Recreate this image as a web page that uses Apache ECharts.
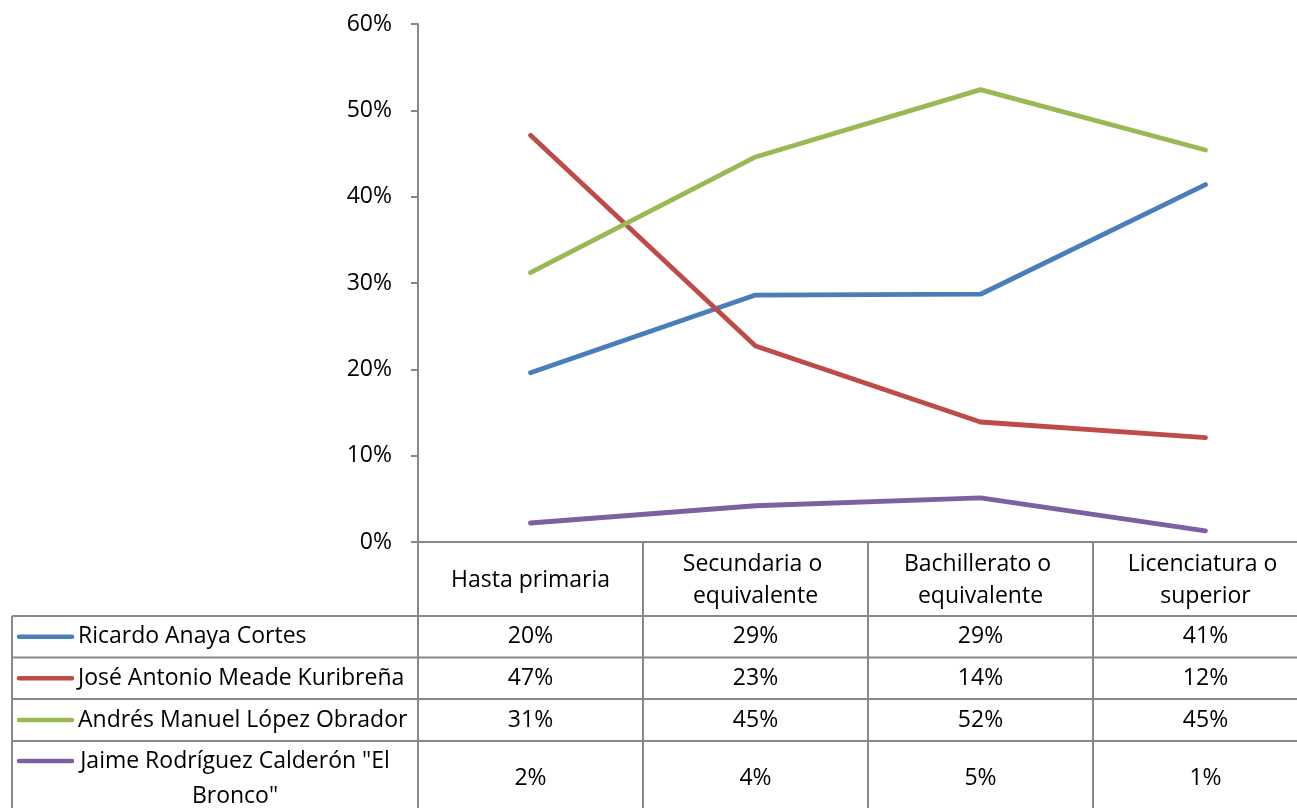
<!DOCTYPE html>
<html>
<head>
<meta charset="utf-8">
<script src="https://cdn.jsdelivr.net/npm/echarts@6/dist/echarts.min.js"></script>
<style>
html,body{margin:0;padding:0;background:#fff;}
#main{width:1297px;height:808px;}
</style>
</head>
<body>
<div id="main"></div>
<script>
// ---- data ----
const categories = ['Hasta primaria', 'Secundaria o equivalente', 'Bachillerato o equivalente', 'Licenciatura o superior'];
const seriesNames = ['Ricardo Anaya Cortes', 'José Antonio Meade Kuribreña', 'Andrés Manuel López Obrador', 'Jaime Rodríguez Calderón "El Bronco"'];
const anaya = [19.6, 28.6, 28.7, 41.4];
const meade = [47.1, 22.7, 13.9, 12.1];
const lopezObrador = [31.2, 44.6, 52.4, 45.4];
const rodriguez = [2.2, 4.2, 5.1, 1.3];
const yTickLabels = ['0%', '10%', '20%', '30%', '40%', '50%', '60%'];

const seriesValues = [anaya, meade, lopezObrador, rodriguez];
const colors = ['#4A7EBB', '#BE4B48', '#98B954', '#7D60A0'];
const FONT = '"Open Sans", sans-serif';
const FS = 23;
const GRID = '#888888';

function render() {
  const chart = echarts.init(document.getElementById('main'), null, {renderer: 'canvas'});
  const option = {
    animation: false,
    backgroundColor: '#fff',
    grid: {left: 418, top: 24, width: 900, height: 518, outerBoundsMode: 'none', containLabel: false},
    xAxis: {
      type: 'category',
      data: categories,
      boundaryGap: true,
      axisLine: {show: true, lineStyle: {color: GRID, width: 2}},
      axisTick: {show: false},
      axisLabel: {
        interval: 0, margin: 38, verticalAlign: 'middle', width: 205, overflow: 'break',
        lineHeight: 32, color: '#000', fontFamily: FONT, fontSize: FS, align: 'center'
      }
    },
    yAxis: {
      type: 'value', min: 0, max: 60, interval: 10,
      axisLine: {show: true, lineStyle: {color: GRID, width: 2}},
      axisTick: {show: true, length: 7, lineStyle: {color: GRID, width: 2}},
      splitLine: {show: false},
      axisLabel: {
        margin: 26, color: '#000', fontFamily: FONT, fontSize: FS,
        formatter: function (v) { return yTickLabels[Math.round(v / 10)]; }
      }
    },
    series: seriesNames.map(function (n, i) {
      return {
        name: n, type: 'line', data: seriesValues[i], symbol: 'none', smooth: false,
        lineStyle: {color: colors[i], width: 4.8, cap: 'round', join: 'round'},
        itemStyle: {color: colors[i]}
      };
    })
  };
  chart.setOption(option);

  // ---- data table drawn below the plot ----
  const x0 = chart.convertToPixel({xAxisIndex: 0}, 0);
  const x1 = chart.convertToPixel({xAxisIndex: 0}, 1);
  const band = x1 - x0;
  const axisY = chart.convertToPixel({yAxisIndex: 0}, 0);
  const left = x0 - band / 2;
  const colEdges = categories.map(function (c, i) { return left + band * i; }).concat([left + band * categories.length]);
  const tableLeft = 12;
  const rowTops = [616, 657.5, 699, 741, 816];
  const graphics = [];
  const lineStyle = {stroke: GRID, lineWidth: 2};
  function hline(y, xa, xb) { graphics.push({type: 'line', shape: {x1: xa, y1: y, x2: xb, y2: y}, style: lineStyle, silent: true}); }
  function vline(x, ya, yb) { graphics.push({type: 'line', shape: {x1: x, y1: ya, x2: x, y2: yb}, style: lineStyle, silent: true}); }

  for (let i = 0; i < colEdges.length; i++) vline(colEdges[i], axisY, rowTops[rowTops.length - 1]);
  vline(tableLeft, rowTops[0], rowTops[rowTops.length - 1]);
  for (let r = 0; r < rowTops.length - 1; r++) hline(rowTops[r], tableLeft, colEdges[colEdges.length - 1]);

  const measureCtx = document.createElement('canvas').getContext('2d');
  measureCtx.font = FS + 'px ' + FONT;
  const nameLeft = 78, nameRight = colEdges[0] - 5;
  const maxW = nameRight - nameLeft;
  const LH = 35;

  // word-wrap a name into lines that fit the legend column
  function wrap(text) {
    const words = text.split(' ');
    const lines = [];
    let cur = '';
    words.forEach(function (wd) {
      const t = cur ? cur + ' ' + wd : wd;
      if (cur && measureCtx.measureText(t).width > maxW) { lines.push(cur); cur = wd; }
      else cur = t;
    });
    if (cur) lines.push(cur);
    return lines;
  }

  seriesNames.forEach(function (n, r) {
    const cy = (rowTops[r] + rowTops[r + 1]) / 2;
    const lines = wrap(n);
    const wraps = lines.length > 1;
    const ky = wraps ? cy - LH * (lines.length - 1) / 2 : cy;
    graphics.push({type: 'line', shape: {x1: 19, y1: ky, x2: 72, y2: ky},
      style: {stroke: colors[r], lineWidth: 4.5, lineCap: 'round'}, silent: true});
    if (!wraps) {
      graphics.push({type: 'text', x: nameLeft, y: cy, silent: true,
        style: {text: n, font: FS + 'px ' + FONT, fill: '#000', align: 'left', verticalAlign: 'middle'}});
    } else {
      graphics.push({type: 'text', x: 235, y: cy, silent: true,
        style: {text: lines.join('\n'), font: FS + 'px ' + FONT, fill: '#000', align: 'center', verticalAlign: 'middle',
          lineHeight: LH}});
    }
    seriesValues[r].forEach(function (v, c) {
      const cx = chart.convertToPixel({xAxisIndex: 0}, c);
      graphics.push({type: 'text', x: cx, y: cy, silent: true,
        style: {text: Math.round(v) + '%', font: FS + 'px ' + FONT, fill: '#000', align: 'center', verticalAlign: 'middle'}});
    });
  });

  chart.setOption({graphic: {elements: graphics}});
}

if (document.fonts && document.fonts.load) {
  Promise.all([
    document.fonts.load(FS + 'px "Open Sans"'),
    document.fonts.load(FS + 'px "Open Sans"', 'José Rodríguez Calderón')
  ]).then(render, render);
} else {
  render();
}
</script>
</body>
</html>
